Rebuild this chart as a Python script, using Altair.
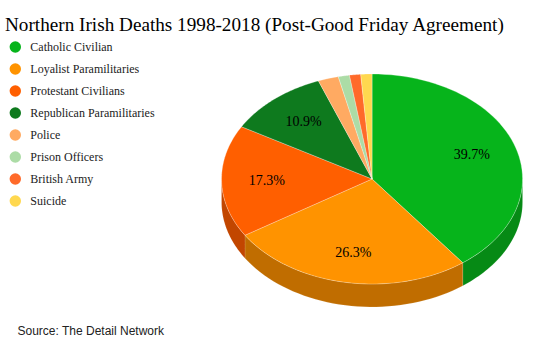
import altair as alt
import pandas as pd

categories = ["Catholic Civilian", "Loyalist Paramilitaries", "Protestant Civilians",
              "Republican Paramilitaries", "Police", "Prison Officers", "British Army", "Suicide"]
shares = [39.7, 26.3, 17.3, 10.9, 2.2, 1.2, 1.2, 1.2]
top_colors = ["#06b41b", "#ff9300", "#ff5f00", "#0e7a1e", "#ffaa62", "#acdca6", "#ff6a2a", "#ffd84f"]
side_colors = ["#068a15", "#c06d00", "#c24600", "#0a5a15", "#c4804a", "#84a880", "#c45020", "#c4a63c"]

title_text = "Northern Irish Deaths 1998-2018 (Post-Good Friday Agreement)"
source_text = "Source: The Detail Network"

df = pd.DataFrame({"cat": categories, "value": shares, "idx": list(range(len(categories)))})

xs = alt.Scale(domain=[-2.472, 1.189], nice=False, zero=False)
ys = alt.Scale(domain=[-1.14, 0.96], nice=False, zero=False)
x_axis = alt.Axis(title=source_text, labels=False, ticks=False, domain=False, grid=False,
                  titleFont="Liberation Sans", titleFontSize=12, titleFontWeight="normal",
                  titleColor="#222222", titleX=17, titleY=-16, titleAlign="left",
                  titleBaseline="alphabetic", titleAnchor="start")

base = (alt.Chart(df)
        .transform_window(cum="sum(value)", sort=[alt.SortField("idx")], frame=[None, 0])
        .transform_joinaggregate(total="sum(value)")
        .transform_calculate(a0="2*PI*(datum.cum-datum.value)/datum.total",
                             a1="2*PI*datum.cum/datum.total"))

side = (base
        .transform_calculate(s0="max(datum.a0, PI/2)", s1="min(datum.a1, 3*PI/2)")
        .transform_filter("datum.s1 > datum.s0")
        .transform_calculate(steps="sequence(0, 41)")
        .transform_flatten(["steps"])
        .transform_calculate(t="datum.s0 + (datum.s1-datum.s0)*datum.steps/40")
        .transform_calculate(px="sin(datum.t)", py="0.7*cos(datum.t)",
                             py2="0.7*cos(datum.t) - 0.153")
        .mark_area(stroke="#ffffff", strokeWidth=0.4, strokeOpacity=0.3)
        .encode(x=alt.X("px:Q", scale=xs, axis=x_axis),
                y=alt.Y("py:Q", scale=ys, axis=None),
                y2="py2:Q",
                fill=alt.Fill("cat:N", scale=alt.Scale(domain=categories, range=side_colors), legend=None),
                detail="cat:N"))

top = (base
       .transform_calculate(steps="sequence(0, 62)")
       .transform_flatten(["steps"])
       .transform_calculate(t="datum.a0 + (datum.a1-datum.a0)*clamp((datum.steps-1)/59, 0, 1)",
                            edge="datum.steps > 0 && datum.steps < 61 ? 1 : 0")
       .transform_calculate(px="datum.edge*sin(datum.t)", py="datum.edge*0.7*cos(datum.t)")
       .mark_line(stroke="#ffffff", strokeWidth=0.6, strokeOpacity=0.45)
       .encode(x=alt.X("px:Q", scale=xs, axis=x_axis),
               y=alt.Y("py:Q", scale=ys, axis=None),
               fill=alt.Fill("cat:N", scale=alt.Scale(domain=categories, range=top_colors),
                             legend=alt.Legend(title=None, orient="none", legendX=9.3, legendY=6,
                                               symbolType="circle", symbolSize=130,
                                               symbolStrokeWidth=0, labelFont="Liberation Serif",
                                               labelFontSize=12, labelColor="#222222",
                                               rowPadding=10, labelOffset=9, padding=0)),
               order=alt.Order("steps:Q"),
               detail="cat:N"))

labels = (base
          .transform_filter("datum.value/datum.total > 0.05")
          .transform_calculate(mid="(datum.a0+datum.a1)/2")
          .transform_calculate(px="0.7*sin(datum.mid)", py="0.5*cos(datum.mid)",
                               lab="format(datum.value/datum.total, '.1%')")
          .mark_text(font="Liberation Serif", fontSize=14, color="#000000")
          .encode(x=alt.X("px:Q", scale=xs, axis=x_axis),
                  y=alt.Y("py:Q", scale=ys, axis=None),
                  text="lab:N"))

chart = (alt.layer(side, top, labels)
         .resolve_scale(fill="independent")
         .properties(width=551, height=315,
                     autosize=alt.AutoSizeParams(type="none"),
                     padding={"left": 0, "top": 35, "right": 0, "bottom": 0},
                     title=alt.Title(title_text, font="Liberation Serif", fontSize=19.2,
                                     fontWeight="normal", color="#000000", anchor="start",
                                     dx=5, dy=23, offset=8, baseline="alphabetic"))
         .configure_view(stroke=None))

chart.save("out.html", embed_options={"renderer": "svg", "actions": False})
